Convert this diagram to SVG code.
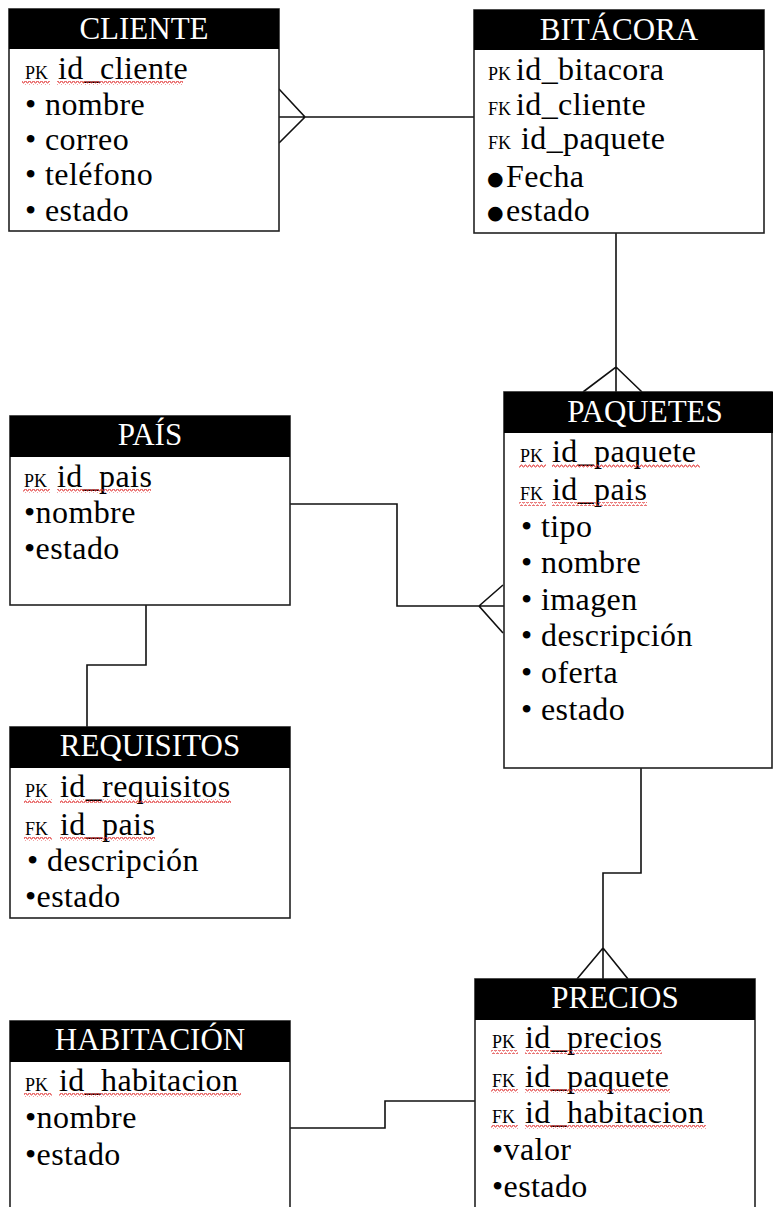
<svg xmlns="http://www.w3.org/2000/svg" width="773" height="1207" viewBox="0 0 773 1207">
<defs>
<pattern id="wave" width="4" height="4" patternUnits="userSpaceOnUse">
<polyline points="0,3 1,1 2,1 3,3 4,3" fill="none" stroke="#e03030" stroke-width="0.9"/>
</pattern>
<style>
.box{fill:#fff;stroke:#222;stroke-width:1.6}
.hdr{fill:#000}
.ttl{font-family:"Liberation Serif","Times New Roman",serif;font-size:31px;fill:#fff;text-anchor:middle}
.row{font-family:"Liberation Serif","Times New Roman",serif;font-size:32px;letter-spacing:0.4px;fill:#000}
.key{font-family:"Liberation Serif","Times New Roman",serif;font-size:18px;fill:#000}
.dot{font-family:"DejaVu Sans",sans-serif;font-size:19px}
.wv{fill:url(#wave)}
.con{fill:none;stroke:#111;stroke-width:1.6}
</style>
</defs>
<rect width="773" height="1207" fill="#fff"/>

<g id="connectors">
<path class="con" d="M279,117 H475 M279,89 L305,117 L279,143"/>
<path class="con" d="M616,233 V392 M583,392 L616,367 L642,392"/>
<path class="con" d="M290,504 H397 V606 H504 M503,585 L479,606 L503,633"/>
<path class="con" d="M146,605 V665 H87 V727"/>
<path class="con" d="M641,768 V873 H603 V979 M577,979 L603,948 L628,979"/>
<path class="con" d="M290,1128 H385 V1101 H475"/>
</g>

<g id="cliente">
<rect class="box" x="9" y="9" width="270" height="222"/>
<rect class="hdr" x="9" y="9" width="270" height="40"/>
<text class="ttl" x="144" y="39">CLIENTE</text>
<text class="key" x="25" y="79">PK</text>
<text class="row" x="58" y="79">id_cliente</text>
<rect class="wv" x="22" y="81" width="28" height="4"/>
<rect class="wv" x="57" y="81" width="126" height="4"/>
<text class="row" x="25" y="115">• nombre</text>
<text class="row" x="25" y="150">• correo</text>
<text class="row" x="25" y="185">• teléfono</text>
<text class="row" x="25" y="221">• estado</text>
</g>

<g id="bitacora">
<rect class="box" x="474" y="10" width="290" height="223"/>
<rect class="hdr" x="474" y="10" width="290" height="40"/>
<text class="ttl" x="619" y="40">BITÁCORA</text>
<text class="key" x="488" y="80">PK</text>
<text class="row" x="516" y="80">id_bitacora</text>
<text class="key" x="488" y="115">FK</text>
<text class="row" x="516" y="115">id_cliente</text>
<text class="key" x="488" y="149">FK</text>
<text class="row" x="521" y="149">id_paquete</text>
<text class="row" x="487" y="187"><tspan class="dot" dy="-2">●</tspan><tspan x="506" dy="2">Fecha</tspan></text>
<text class="row" x="487" y="221"><tspan class="dot" dy="-2">●</tspan><tspan x="506" dy="2">estado</tspan></text>
</g>

<g id="paquetes">
<rect class="box" x="504" y="392" width="268" height="376"/>
<rect class="hdr" x="504" y="392" width="269" height="41"/>
<text class="ttl" x="645" y="422">PAQUETES</text>
<text class="key" x="520" y="462">PK</text>
<text class="row" x="552" y="462">id_paquete</text>
<rect class="wv" x="519" y="464" width="27" height="4"/>
<rect class="wv" x="552" y="464" width="148" height="4"/>
<text class="key" x="520" y="500">FK</text>
<text class="row" x="552" y="500">id_pais</text>
<rect class="wv" x="519" y="502" width="27" height="4"/>
<rect class="wv" x="552" y="502" width="95" height="4"/>
<text class="row" x="521" y="537">• tipo</text>
<text class="row" x="521" y="573">• nombre</text>
<text class="row" x="521" y="610">• imagen</text>
<text class="row" x="521" y="646">• descripción</text>
<text class="row" x="521" y="683">• oferta</text>
<text class="row" x="521" y="720">• estado</text>
</g>

<g id="pais">
<rect class="box" x="10" y="416" width="280" height="189"/>
<rect class="hdr" x="10" y="416" width="280" height="41"/>
<text class="ttl" x="150" y="445">PAÍS</text>
<text class="key" x="24" y="487">PK</text>
<text class="row" x="57" y="487">id_pais</text>
<rect class="wv" x="23" y="489" width="27" height="4"/>
<rect class="wv" x="57" y="489" width="94" height="4"/>
<text class="row" x="24" y="523">•nombre</text>
<text class="row" x="24" y="559">•estado</text>
</g>

<g id="requisitos">
<rect class="box" x="10" y="727" width="280" height="191"/>
<rect class="hdr" x="10" y="727" width="280" height="41"/>
<text class="ttl" x="150" y="756">REQUISITOS</text>
<text class="key" x="25" y="797">PK</text>
<text class="row" x="60" y="797">id_requisitos</text>
<rect class="wv" x="24" y="799" width="28" height="4"/>
<rect class="wv" x="60" y="799" width="171" height="4"/>
<text class="key" x="25" y="835">FK</text>
<text class="row" x="60" y="835">id_pais</text>
<rect class="wv" x="24" y="837" width="28" height="4"/>
<rect class="wv" x="60" y="837" width="95" height="4"/>
<text class="row" x="27" y="871">• descripción</text>
<text class="row" x="25" y="907">•estado</text>
</g>

<g id="habitacion">
<rect class="box" x="10" y="1021" width="280" height="200"/>
<rect class="hdr" x="10" y="1021" width="280" height="41"/>
<text class="ttl" x="150" y="1050">HABITACIÓN</text>
<text class="key" x="25" y="1091">PK</text>
<text class="row" x="59" y="1091">id_habitacion</text>
<rect class="wv" x="24" y="1093" width="28" height="4"/>
<rect class="wv" x="59" y="1093" width="182" height="4"/>
<text class="row" x="25" y="1128">•nombre</text>
<text class="row" x="25" y="1165">•estado</text>
</g>

<g id="precios">
<rect class="box" x="475" y="979" width="280" height="240"/>
<rect class="hdr" x="475" y="979" width="280" height="41"/>
<text class="ttl" x="615" y="1008">PRECIOS</text>
<text class="key" x="492" y="1048">PK</text>
<text class="row" x="525" y="1048">id_precios</text>
<rect class="wv" x="491" y="1050" width="27" height="4"/>
<rect class="wv" x="525" y="1050" width="137" height="4"/>
<text class="key" x="492" y="1087">FK</text>
<text class="row" x="525" y="1087">id_paquete</text>
<rect class="wv" x="491" y="1089" width="27" height="4"/>
<rect class="wv" x="525" y="1089" width="145" height="4"/>
<text class="key" x="492" y="1123">FK</text>
<text class="row" x="525" y="1123">id_habitacion</text>
<rect class="wv" x="491" y="1125" width="27" height="4"/>
<rect class="wv" x="525" y="1125" width="181" height="4"/>
<text class="row" x="492" y="1160">•valor</text>
<text class="row" x="492" y="1197">•estado</text>
</g>
</svg>
